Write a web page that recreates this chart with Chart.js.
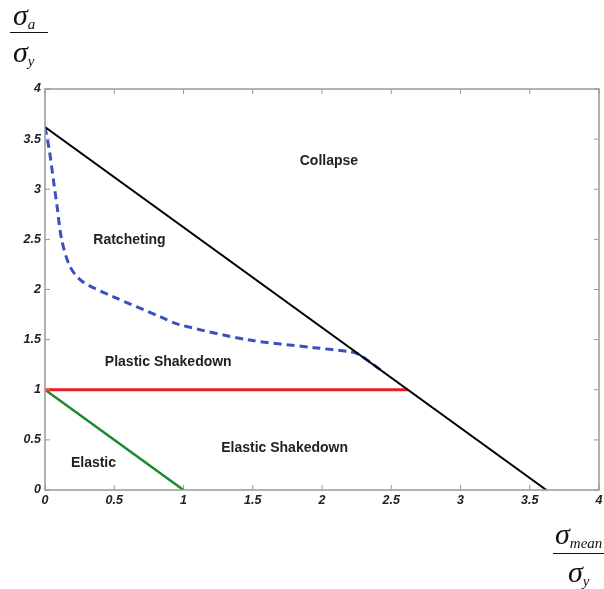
<!DOCTYPE html>
<html>
<head>
<meta charset="utf-8">
<script src="https://cdn.jsdelivr.net/npm/chart.js@4.4.1/dist/chart.umd.min.js"></script>
<style>
  body { margin: 0; background: #fff; }
  .wrap { position: relative; width: 604px; height: 589px; }
  .lbl { position: absolute; font-family: 'Liberation Serif', 'DejaVu Serif', serif; font-style: italic; color: #111; font-size: 30px; line-height: 30px; white-space: nowrap; }
  .lbl sub { font-size: 15px; vertical-align: -4px; }
  .bar { position: absolute; border-top: 1.5px solid #111; height: 0; }
</style>
</head>
<body>
<div class="wrap">
  <canvas id="chart" width="604" height="589"></canvas>
  <div class="lbl" style="left:13px; top:0px;">σ<sub>a</sub></div>
  <div class="bar" style="left:10px; top:32px; width:38px;"></div>
  <div class="lbl" style="left:13px; top:37px;">σ<sub>y</sub></div>
  <div class="lbl" style="left:555px; top:519px;">σ<sub>mean</sub></div>
  <div class="bar" style="left:553px; top:553px; width:51px;"></div>
  <div class="lbl" style="left:568px; top:557px;">σ<sub>y</sub></div>
</div>
<script>
// boundaries of the shakedown diagram (normalised by yield stress)
const collapseX = [0, 3.62];
const collapseY = [3.62, 0];
const plasticX = [0, 2.62];
const plasticY = [1, 1];
const elasticX = [0, 1];
const elasticY = [1, 0];
const ratchetX = [0, 0.03, 0.06, 0.09, 0.12, 0.18, 0.27, 0.49, 0.83, 0.97, 1.46, 1.94, 2.2, 2.27, 2.45];
const ratchetY = [3.62, 3.4, 3.1, 2.8, 2.5, 2.23, 2.08, 1.93, 1.73, 1.65, 1.5, 1.42, 1.38, 1.35, 1.17];

const ticks = [0, 0.5, 1, 1.5, 2, 2.5, 3, 3.5, 4];

const regionNames = ['Collapse', 'Ratcheting', 'Plastic Shakedown', 'Elastic Shakedown', 'Elastic'];
const regionX = [2.05, 0.61, 0.89, 1.73, 0.35];
const regionY = [3.28, 2.49, 1.28, 0.42, 0.27];

const pts = (xs, ys) => xs.map((x, i) => ({ x, y: ys[i] }));

const boxPlugin = {
  id: 'box',
  afterDraw(chart) {
    const { ctx, chartArea: a, scales: { x, y } } = chart;
    ctx.save();
    ctx.strokeStyle = '#999';
    ctx.lineWidth = 1.5;
    ctx.strokeRect(a.left, a.top, a.right - a.left, a.bottom - a.top);
    ctx.lineWidth = 1;
    ctx.beginPath();
    ticks.forEach(v => {
      const px = x.getPixelForValue(v);
      ctx.moveTo(px, a.bottom); ctx.lineTo(px, a.bottom - 5);
      ctx.moveTo(px, a.top); ctx.lineTo(px, a.top + 5);
      const py = y.getPixelForValue(v);
      ctx.moveTo(a.left, py); ctx.lineTo(a.left + 5, py);
      ctx.moveTo(a.right, py); ctx.lineTo(a.right - 5, py);
    });
    ctx.stroke();
    ctx.fillStyle = '#222';
    ctx.font = 'bold 14px "Liberation Sans", Arial, sans-serif';
    ctx.textAlign = 'center';
    ctx.textBaseline = 'middle';
    regionNames.forEach((t, i) => {
      ctx.fillText(t, x.getPixelForValue(regionX[i]), y.getPixelForValue(regionY[i]));
    });
    ctx.restore();
  }
};

const tickFont = { family: '"Liberation Sans", Arial, sans-serif', size: 12.5, weight: 'bold', style: 'italic' };

new Chart(document.getElementById('chart'), {
  type: 'scatter',
  data: {
    datasets: [
      { data: pts(collapseX, collapseY), borderColor: '#000', borderWidth: 2 },
      { data: pts(plasticX, plasticY), borderColor: '#ee1c1c', borderWidth: 3 },
      { data: pts(elasticX, elasticY), borderColor: '#1a8a2a', borderWidth: 2.5 },
      { data: pts(ratchetX, ratchetY), borderColor: '#3a4fc0', borderWidth: 3, borderDash: [8, 5], tension: 0.3 },
    ].map(d => ({ ...d, showLine: true, pointRadius: 0, fill: false }))
  },
  options: {
    responsive: false,
    animation: false,
    layout: { padding: { top: 89, right: 5, left: 0, bottom: 0 } },
    plugins: { legend: { display: false }, tooltip: { enabled: false } },
    scales: {
      x: {
        min: 0, max: 4,
        afterBuildTicks: s => { s.ticks = ticks.map(v => ({ value: v })); },
        afterFit: s => { s.height = 99; s.paddingLeft = 0; s.paddingRight = 0; },
        grid: { display: false, drawTicks: false, tickLength: 0 },
        border: { display: false },
        ticks: { font: tickFont, color: '#222', padding: 3, maxRotation: 0, callback: v => String(v) },
      },
      y: {
        min: 0, max: 4,
        afterBuildTicks: s => { s.ticks = ticks.map(v => ({ value: v })); },
        afterFit: s => { s.width = 45; s.paddingTop = 0; s.paddingBottom = 0; },
        grid: { display: false, drawTicks: false, tickLength: 0 },
        border: { display: false },
        ticks: { font: tickFont, color: '#222', padding: 4, callback: v => String(v) },
      }
    }
  },
  plugins: [boxPlugin]
});
</script>
</body>
</html>
